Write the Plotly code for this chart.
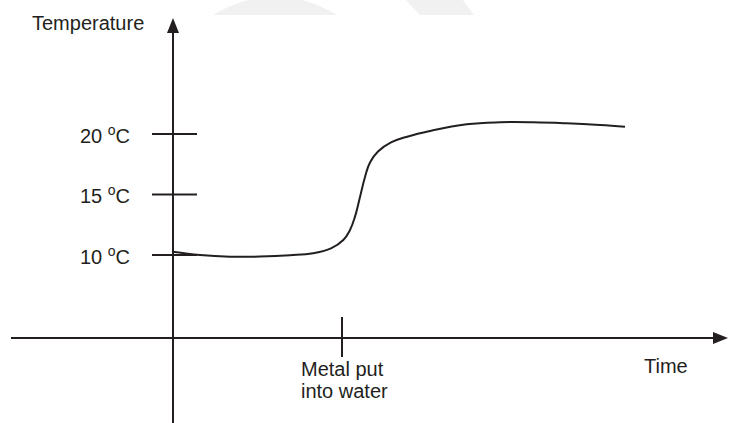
import plotly.graph_objects as go

# time in arbitrary units, temperature in degC
time = [0, 2.7, 5.7, 8.7, 11.7, 14.0, 15.8, 17.03, 17.7, 18.2, 18.7,
        19.2, 19.7, 20.5, 21.8, 23.5, 25.7, 29.37, 32.7, 36.03, 39.37, 42.7, 45.2]
temp = [10.27, 10.0, 9.86, 9.87, 9.98, 10.15, 10.55, 11.24, 12.07, 13.17, 14.8,
        16.45, 17.65, 18.55, 19.3, 19.8, 20.25, 20.8, 20.97, 20.97, 20.88, 20.74, 20.6]

temp_ticks = [10, 15, 20]
tick_labels = ["10 <sup>o</sup>C", "15 <sup>o</sup>C", "20 <sup>o</sup>C"]
metal_time = 16.9

INK = "#231f20"
FONT = "Liberation Sans, Arial, sans-serif"

# pixel -> data helpers for the hand-drawn frame
def dx(px):
    return (px - 173) / 10.0

def dy(py):
    return 10 + (255 - py) / 12.1

fig = go.Figure()

fig.add_trace(go.Scatter(
    x=time, y=temp, mode="lines",
    line=dict(color=INK, width=2, shape="spline", smoothing=1.2, simplify=False),
    hoverinfo="skip", showlegend=False
))

shapes = []
# faint watermark at top
shapes.append(dict(type="path", layer="below", line=dict(width=0), fillcolor="#f1f1f1",
                   path=f"M {dx(213)},{dy(15)} Q {dx(275)},{dy(-22)} {dx(337)},{dy(15)} Z"))
shapes.append(dict(type="path", layer="below", line=dict(width=0), fillcolor="#f1f1f1",
                   path=f"M {dx(405)},{dy(-1)} L {dx(462)},{dy(-1)} L {dx(474)},{dy(15)} L {dx(420)},{dy(15)} Z"))

# axes lines
shapes.append(dict(type="line", x0=0, x1=0, y0=dy(430), y1=dy(30),
                   line=dict(color=INK, width=2)))
shapes.append(dict(type="line", x0=dx(11), x1=dx(716), y0=dy(338), y1=dy(338),
                   line=dict(color=INK, width=2)))
# arrowheads
shapes.append(dict(type="path", line=dict(width=0), fillcolor=INK,
                   path=f"M {dx(173)},{dy(18)} L {dx(179)},{dy(33)} L {dx(167)},{dy(33)} Z"))
shapes.append(dict(type="path", line=dict(width=0), fillcolor=INK,
                   path=f"M {dx(728)},{dy(338)} L {dx(713)},{dy(332)} L {dx(713)},{dy(344)} Z"))
# temperature ticks
for t in temp_ticks:
    shapes.append(dict(type="line", x0=dx(152), x1=dx(197), y0=t, y1=t,
                       line=dict(color=INK, width=2)))
# metal tick
shapes.append(dict(type="line", x0=metal_time, x1=metal_time, y0=dy(317), y1=dy(357),
                   line=dict(color=INK, width=2)))

annotations = []
tf = dict(family=FONT, size=20, color=INK)
annotations.append(dict(x=dx(30), y=dy(23), text="Temperature", showarrow=False,
                        xanchor="left", yanchor="middle", font=tf))
for t, lab in zip(temp_ticks, tick_labels):
    annotations.append(dict(x=dx(132), y=t, text=lab, showarrow=False,
                            xanchor="right", yanchor="middle", font=tf))
annotations.append(dict(x=dx(299), y=dy(369), text="Metal put", showarrow=False,
                        xanchor="left", yanchor="middle", font=tf))
annotations.append(dict(x=dx(299), y=dy(391), text="into water", showarrow=False,
                        xanchor="left", yanchor="middle", font=tf))
annotations.append(dict(x=dx(642), y=dy(366), text="Time", showarrow=False,
                        xanchor="left", yanchor="middle", font=tf))

fig.update_layout(
    width=730, height=423,
    margin=dict(l=0, r=0, t=0, b=0),
    paper_bgcolor="white", plot_bgcolor="white",
    xaxis=dict(range=[dx(0), dx(730)], visible=False, fixedrange=True),
    yaxis=dict(range=[dy(423), dy(0)], visible=False, fixedrange=True),
    shapes=shapes, annotations=annotations,
    showlegend=False
)

fig.write_html("out.html", config={"displayModeBar": False},
               post_script="document.body.style.margin='0';")
